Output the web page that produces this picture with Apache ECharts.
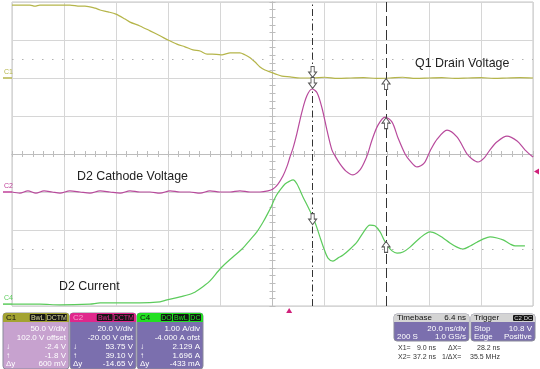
<!DOCTYPE html>
<html><head><meta charset="utf-8">
<script src="https://cdn.jsdelivr.net/npm/echarts@6/dist/echarts.min.js"></script>
<style>html,body{margin:0;padding:0;background:#fff}#c{width:540px;height:369px}</style>
</head><body><div id="c"></div>
<script>
// ---- data (time in ns relative to screen centre, amplitude in divisions) ----
const c1Time = [-100,-93.1,-91.2,-89.3,-81.6,-77.8,-73.9,-72.0,-68.1,-66.2,-63.1,-60.1,-56.6,-54.7,-50.9,-47.0,-43.2,-40.1,-36.7,-33.6,-30.5,-27.8,-25.1,-23.2,-19.8,-18.2,-16.3,-12.5,-10.6,-8.6,-6.7,-4.8,-2.9,-1.0,1.0,3.6,6.7,10.6,15.5,20,25,30,35,40,45,50,55,60,65,70,75,80,85,90,95,100];
const c1Div  = [3.92,3.92,3.89,3.92,3.92,3.92,3.89,3.89,3.84,3.79,3.74,3.68,3.55,3.47,3.37,3.24,3.11,3.0,2.89,2.82,2.74,2.71,2.63,2.63,2.61,2.63,2.66,2.66,2.61,2.53,2.42,2.29,2.21,2.16,2.11,2.05,2.03,2.0,2.0,2.02,1.99,2.0,2.01,1.99,2.0,2.02,1.99,2.0,2.01,1.99,2.0,2.01,1.99,2.0,2.01,2.0];

const c2Time = [-100,-97.0,-93.9,-90.8,-87.7,-84.6,-81.6,-77.8,-73.9,-70.1,-66.2,-62.4,-58.5,-54.7,-50.9,-47.0,-43.2,-39.3,-35.5,-31.7,-27.8,-24.0,-20.2,-16.3,-12.5,-8.6,-4.8,-1.7,0.2,2.1,4.0,5.6,6.7,7.9,9.4,11.3,13.2,15.2,17.1,19.0,20.9,22.8,24.0,25.9,28.2,30.9,33.6,35.5,36.7,38.2,40.5,43.2,45.9,48.2,50.9,52.8,55.5,58.2,60.5,63.2,67.0,70.8,74.7,76.6,78.9,81.2,83.5,86.2,90.0,93.9,96.9,100];
const c2Div  = [-1.0,-1.03,-0.97,-1.03,-0.97,-1.0,-1.03,-0.97,-1.0,-1.03,-0.97,-1.0,-1.03,-0.97,-1.0,-1.0,-1.03,-0.97,-1.0,-1.0,-1.03,-0.97,-1.0,-1.0,-0.97,-1.0,-1.0,-0.97,-0.92,-0.79,-0.58,-0.32,-0.08,0.16,0.55,1.11,1.53,1.71,1.61,1.21,0.63,0.11,-0.05,-0.26,-0.45,-0.55,-0.42,-0.18,0.03,0.37,0.76,0.97,0.84,0.42,0.0,-0.18,-0.34,-0.24,0.08,0.39,0.63,0.45,0.0,-0.13,-0.21,-0.11,0.11,0.32,0.47,0.34,0.11,-0.08];

const c4Time = [-100,-89.3,-81.6,-70.1,-66.2,-58.5,-50.9,-43.2,-40.5,-35.5,-30.5,-25.9,-24.0,-19.8,-15.2,-11.7,-8.6,-6.0,-3.6,-1.7,-0.2,1.3,2.9,4.8,6.7,7.9,9.4,11.7,13.6,15.5,17.1,18.2,19.8,21.3,23.2,25.1,27.1,29.8,32.4,34.7,37.4,39.3,41.3,42.8,43.9,45.9,47.8,50.1,52.8,56.6,60.5,63.2,65.5,68.1,70.8,73.1,75.9,78.5,80.8,83.5,86.2,88.5,91.2,93.1,96.9];
const c4Div  = [-3.95,-3.95,-3.97,-3.95,-3.92,-3.92,-3.92,-3.89,-3.84,-3.76,-3.66,-3.45,-3.34,-3.0,-2.71,-2.5,-2.26,-2.05,-1.79,-1.55,-1.34,-1.11,-0.95,-0.79,-0.71,-0.68,-0.79,-1.13,-1.39,-1.66,-1.95,-2.18,-2.5,-2.74,-2.82,-2.74,-2.66,-2.5,-2.32,-2.08,-1.87,-1.89,-2.05,-2.26,-2.39,-2.55,-2.61,-2.58,-2.45,-2.21,-2.05,-2.11,-2.21,-2.34,-2.45,-2.5,-2.42,-2.32,-2.24,-2.18,-2.21,-2.26,-2.37,-2.42,-2.42];

const timebaseDelay = 6.4;          // ns
const cursorX = [9.0, 37.2];        // ns (X1, X2)
const cursorYDiv = [2.5, -2.5];     // horizontal cursor lines (div)
const arrowX1Div = [2.0, 1.71, -1.66];   // trace values at X1 (C1, C2, C4)
const arrowX2Div = [2.0, 0.97, -2.39];   // trace values at X2
const triggerLevelDiv = -0.46;
const groundDiv = {C1: 2.0, C2: -1.0, C4: -3.95};

const xTicks = {min: -100, max: 100, interval: 20};
const yTicks = {min: -4, max: 4, interval: 1};

const c1Rows = ["50.0 V/div","102.0 V offset","-2.4 V","-1.8 V","600 mV"];
const c2Rows = ["20.0 V/div","-20.00 V ofst","53.75 V","39.10 V","-14.65 V"];
const c4Rows = ["1.00 A/div","-4.000 A ofst","2.129 A","1.696 A","-433 mA"];

const COL1 = '#b5b54a', COL2 = '#b84a9c', COL4 = '#5ccb5c';
const FF = '"Liberation Sans", Arial, sans-serif';

const zip = (a,b) => a.map((v,i)=>[v,b[i]]);
const chart = echarts.init(document.getElementById('c'));

const DOWN = 'path://M3,0L7,0L7,6L10,6L5,12L0,6L3,6Z';
const UP = 'path://M5,0L10,6L7,6L7,12L3,12L3,6L0,6Z';

function baseAxis(extra){ return Object.assign({
  type:'value', axisLabel:{show:false},
  axisLine:{show:true, onZero:true, lineStyle:{color:'#bdbdbd', width:1}},
  axisTick:{show:true, inside:true, length:3, lineStyle:{color:'#bdbdbd'}},
  minorTick:{show:true, splitNumber:5, length:3, lineStyle:{color:'#bdbdbd'}},
  splitLine:{show:false}
}, extra); }

const ax1 = cursorX.map(v=>v+timebaseDelay);
const arrowData = [
  {value:[ax1[0], arrowX1Div[0]], symbol:DOWN, symbolOffset:[0,-6]},
  {value:[ax1[0], arrowX1Div[1]], symbol:DOWN, symbolOffset:[0,-6]},
  {value:[ax1[0], arrowX1Div[2]], symbol:DOWN, symbolOffset:[0,2]},
  {value:[ax1[1], arrowX2Div[0]], symbol:UP, symbolOffset:[0,6]},
  {value:[ax1[1], arrowX2Div[1]], symbol:UP, symbolOffset:[0,6]},
  {value:[ax1[1], arrowX2Div[2]], symbol:UP, symbolOffset:[0,2]}
];

chart.setOption({
  animation:false,
  backgroundColor:'#fff',
  grid:{left:12, right:7, top:2, bottom:63, show:true, borderColor:'#c4c4c4', borderWidth:1, backgroundColor:'#fff'},
  xAxis:[
    baseAxis(Object.assign({position:'bottom', splitLine:{show:true, lineStyle:{color:'#d6d6d6'}}}, xTicks)),
    baseAxis(Object.assign({position:'top'}, xTicks))
  ],
  yAxis:[
    baseAxis(Object.assign({position:'left', splitLine:{show:true, lineStyle:{color:'#d6d6d6'}}}, yTicks)),
    baseAxis(Object.assign({position:'right'}, yTicks))
  ],
  series:[
    {type:'line', name:'C1', data:zip(c1Time,c1Div), showSymbol:false, smooth:0.3, lineStyle:{color:COL1, width:1.2}, z:3,
     markLine:{silent:true, symbol:'none', label:{show:false},
       lineStyle:{color:'#b0b0b0', width:1, type:[1.5,8.5]},
       data: cursorYDiv.map(v=>({yAxis:v}))}},
    {type:'line', name:'C2', data:zip(c2Time,c2Div), showSymbol:false, smooth:0.3, lineStyle:{color:COL2, width:1.2}, z:3},
    {type:'line', name:'C4', data:zip(c4Time,c4Div), showSymbol:false, smooth:0.3, lineStyle:{color:COL4, width:1.2}, z:3,
     markLine:{silent:true, symbol:'none', label:{show:false}, z:5,
       data:[
         {xAxis:ax1[0], lineStyle:{color:'#333', width:1, type:[7,3,1.5,3]}},
         {xAxis:ax1[1], lineStyle:{color:'#333', width:1, type:[10,4]}}
       ]}},
    {type:'scatter', data:arrowData, symbolSize:[8,11], z:6,
     itemStyle:{color:'#fff', borderColor:'#555', borderWidth:1, opacity:1}}
  ]
});

// ---- annotations and readout panel ----
const g = [];
function T(x,y,s,o){ o=o||{}; return {type:'text', x, y, z:10, silent:true, style:{text:s, fill:o.fill||'#fff', font:(o.bold?'bold ':'')+(o.size||8)+'px '+FF, align:o.align||'left', verticalAlign:'middle'}}; }
function R(x,y,w,h,fill,r,stroke){ return {type:'rect', z:9, silent:true, shape:{x,y,width:w,height:h,r:r||0}, style:{fill, stroke:stroke||null, lineWidth:1}}; }

const p = (x,y)=>chart.convertToPixel({gridIndex:0},[x,y]);
// labels
g.push(T(415,64,'Q1 Drain Voltage',{fill:'#222',size:12.4}));
g.push(T(77,177,'D2 Cathode Voltage',{fill:'#222',size:12.4}));
g.push(T(59,287,'D2 Current',{fill:'#222',size:12.4}));
// channel ground markers
const gm = [['C1',groundDiv.C1,COL1],['C2',groundDiv.C2,'#c0409a'],['C4',groundDiv.C4,COL4]];
gm.forEach(([n,v,c])=>{
  const y = p(-100,v)[1];
  g.push(T(4,y-6,n,{fill:c,size:7}));
  g.push({type:'line', z:10, silent:true, shape:{x1:3,y1:y,x2:12,y2:y}, style:{stroke:c, lineWidth:1.5}});
});
// trigger markers
const tl = p(100, triggerLevelDiv);
g.push({type:'polygon', z:10, silent:true, shape:{points:[[tl[0]+1,tl[1]],[tl[0]+6,tl[1]-3],[tl[0]+6,tl[1]+3]]}, style:{fill:'#d0207a'}});
const tt = p(timebaseDelay, -4);
g.push({type:'polygon', z:10, silent:true, shape:{points:[[tt[0],tt[1]+2],[tt[0]-3,tt[1]+7],[tt[0]+3,tt[1]+7]]}, style:{fill:'#d0207a'}});

// channel boxes
function chBox(x, name, hdr, hdrText, body, badges, badgeText, rows){
  const w = 66;
  g.push(R(x,313,w,56,body,3,'#8a8a9a'));
  g.push(R(x,313,w,9,hdr,[3,3,0,0]));
  g.push(T(x+3,317.5,name,{fill:hdrText}));
  let bx = x+w-1;
  for (let i=badges.length-1;i>=0;i--){
    const bw = badges[i].length*4.6+3;
    bx -= bw;
    g.push(R(bx,314,bw-1,7,'#151515',1));
    g.push(T(bx+(bw-1)/2,317.6,badges[i],{fill:badgeText,size:7,align:'center'}));
  }
  const ys=[329,337.5,346.5,355.5,364];
  rows.forEach((s,i)=>g.push(T(x+w-3,ys[i],s,{align:'right'})));
  g.push(T(x+3,ys[2],'↓'));g.push(T(x+3,ys[3],'↑'));g.push(T(x+3,ys[4],'Δy'));
}
chBox(3,'C1','#a3a332','#111','#c7a2cf',['BwL','DCTM'],'#dada9a',c1Rows);
chBox(70,'C2','#e0288c','#f7a0cf','#7b6fae',['BwL','DCTM'],'#e0288c',c2Rows);
chBox(137,'C4','#22e022','#111','#7b6fae',['DO','BwL','DC'],'#22e022',c4Rows);

// timebase / trigger
g.push(R(394,314,75,27,'#7b6fae',3,'#8a8a9a'));
g.push(R(394,314,75,8,'#d4d4d4',[3,3,0,0]));
g.push(T(397,318,'Timebase',{fill:'#111'}));
g.push(T(466,318,timebaseDelay.toFixed(1)+' ns',{fill:'#111',align:'right'}));
g.push(T(466,329,'20.0 ns/div',{align:'right'}));
g.push(T(397,337,'200 S'));
g.push(T(466,337,'1.0 GS/s',{align:'right'}));

g.push(R(471,314,64,27,'#7b6fae',3,'#8a8a9a'));
g.push(R(471,314,64,8,'#d4d4d4',[3,3,0,0]));
g.push(T(474,318,'Trigger',{fill:'#111'}));
g.push(R(513,315,10,6,'#151515',1)); g.push(T(518,318,'C2',{fill:'#ddd',size:6,align:'center'}));
g.push(R(523,315,10,6,'#151515',1)); g.push(T(528,318,'DC',{fill:'#ddd',size:6,align:'center'}));
g.push(T(474,329,'Stop'));
g.push(T(532,329,'10.8 V',{align:'right'}));
g.push(T(474,337,'Edge'));
g.push(T(532,337,'Positive',{align:'right'}));

// cursor readouts
const dX = cursorX[1]-cursorX[0];
const RS = {fill:'#333', size:7};
g.push(T(398,348,'X1=',RS));
g.push(T(436,348,cursorX[0].toFixed(1)+' ns',Object.assign({align:'right'},RS)));
g.push(T(448,348,'ΔX=',RS));
g.push(T(500,348,dX.toFixed(1)+' ns',Object.assign({align:'right'},RS)));
g.push(T(398,357.5,'X2=',RS));
g.push(T(436,357.5,cursorX[1].toFixed(1)+' ns',Object.assign({align:'right'},RS)));
g.push(T(442,357.5,'1/ΔX=',RS));
g.push(T(500,357.5,(1000/dX).toFixed(1)+' MHz',Object.assign({align:'right'},RS)));

chart.setOption({graphic:{elements:g}});
</script></body></html>
